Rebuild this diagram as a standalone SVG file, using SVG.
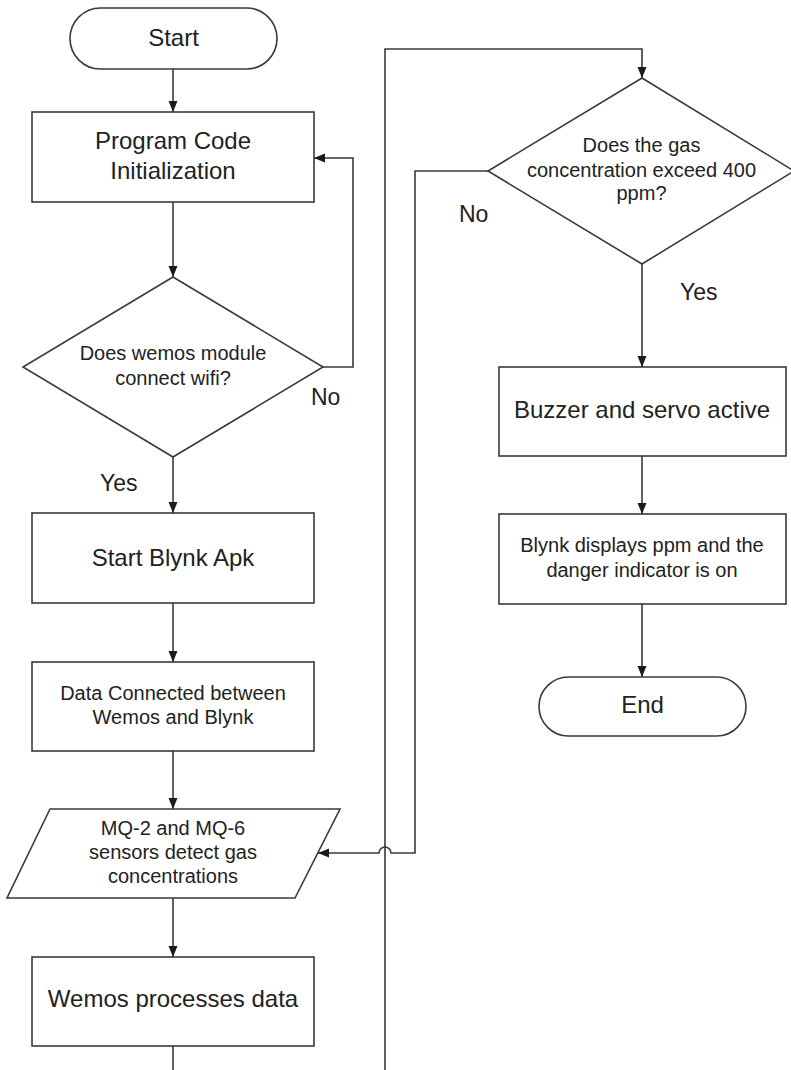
<svg xmlns="http://www.w3.org/2000/svg" width="791" height="1070" viewBox="0 0 791 1070">
<defs>
<marker id="arr" markerUnits="userSpaceOnUse" markerWidth="11" markerHeight="10" refX="11" refY="5" orient="auto">
<path d="M0,0.5 L11,5 L0,9.5 z" fill="#1a1a1a"/>
</marker>
</defs>
<style>
.shape{fill:#ffffff;stroke:#3a3a3a;stroke-width:1.6}
.conn{fill:none;stroke:#3a3a3a;stroke-width:1.6}
.t{font-family:"Liberation Sans",Arial,sans-serif;fill:#222222;text-anchor:middle}
.big{font-size:24px}
.small{font-size:20px}
.lbl{font-family:"Liberation Sans",Arial,sans-serif;fill:#222222;font-size:23px}
</style>
<rect width="791" height="1070" fill="#ffffff"/>
<g id="connectors">
<path class="conn" d="M173 69 V112" marker-end="url(#arr)"/>
<path class="conn" d="M173 202 V277" marker-end="url(#arr)"/>
<path class="conn" d="M323 367 H353 V158 H314" marker-end="url(#arr)"/>
<path class="conn" d="M173 457 V513" marker-end="url(#arr)"/>
<path class="conn" d="M173 603 V662" marker-end="url(#arr)"/>
<path class="conn" d="M173 751 V809" marker-end="url(#arr)"/>
<path class="conn" d="M173 898 V957" marker-end="url(#arr)"/>
<path class="conn" d="M173 1046 V1085 H385 V49 H642 V78" marker-end="url(#arr)"/>
<path class="conn" d="M488 171 H415 V853 H391 A6 6 0 0 0 379 853 H318" marker-end="url(#arr)"/>
<path class="conn" d="M642 264 V367" marker-end="url(#arr)"/>
<path class="conn" d="M642 456 V514" marker-end="url(#arr)"/>
<path class="conn" d="M642 604 V677" marker-end="url(#arr)"/>
<text class="lbl" x="311" y="405">No</text>
<text class="lbl" x="100" y="491">Yes</text>
<text class="lbl" x="459" y="222">No</text>
<text class="lbl" x="680" y="300">Yes</text>
</g>
<g id="start">
<rect class="shape" x="70" y="8" width="207" height="61" rx="30.5" ry="30.5"/>
<text class="t big" x="173.5" y="46">Start</text>
</g>
<g id="init">
<rect class="shape" x="32" y="112" width="282" height="90"/>
<text class="t big" x="173" y="149">Program Code</text>
<text class="t big" x="173" y="179">Initialization</text>
</g>
<g id="wifi">
<polygon class="shape" points="173,277 323,367 173,457 23,367"/>
<text class="t small" x="173" y="360">Does wemos module</text>
<text class="t small" x="173" y="385">connect wifi?</text>
</g>
<g id="blynk-start">
<rect class="shape" x="32" y="513" width="282" height="90"/>
<text class="t big" x="173" y="566">Start Blynk Apk</text>
</g>
<g id="data-connected">
<rect class="shape" x="32" y="662" width="282" height="89"/>
<text class="t small" x="173" y="700">Data Connected between</text>
<text class="t small" x="173" y="724">Wemos and Blynk</text>
</g>
<g id="sensors">
<polygon class="shape" points="50,809 340,809 295,898 7,898"/>
<text class="t small" x="173" y="835">MQ-2 and MQ-6</text>
<text class="t small" x="173" y="859">sensors detect gas</text>
<text class="t small" x="173" y="883">concentrations</text>
</g>
<g id="process">
<rect class="shape" x="32" y="957" width="282" height="89"/>
<text class="t big" x="173" y="1007">Wemos processes data</text>
</g>
<g id="gas-check">
<polygon class="shape" points="642,78 794,171 642,264 488,171"/>
<text class="t small" x="641.5" y="152">Does the gas</text>
<text class="t small" x="641.5" y="177">concentration exceed 400</text>
<text class="t small" x="641.5" y="200">ppm?</text>
</g>
<g id="buzzer">
<rect class="shape" x="499" y="367" width="287" height="89"/>
<text class="t big" x="642" y="418">Buzzer and servo active</text>
</g>
<g id="blynk-display">
<rect class="shape" x="499" y="514" width="287" height="90"/>
<text class="t small" x="642" y="552">Blynk displays ppm and the</text>
<text class="t small" x="642" y="577">danger indicator is on</text>
</g>
<g id="end">
<rect class="shape" x="539" y="677" width="207" height="59" rx="29.5" ry="29.5"/>
<text class="t big" x="642.5" y="713">End</text>
</g>
</svg>
